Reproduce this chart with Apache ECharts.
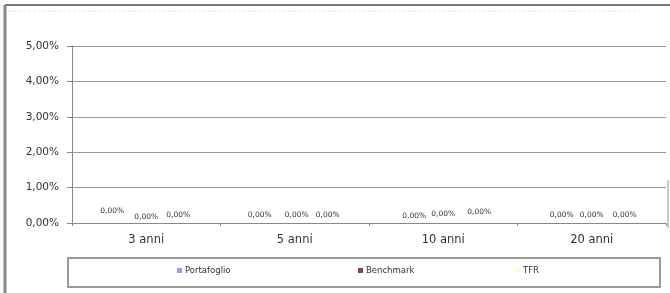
<!DOCTYPE html>
<html style="height: 100%">
<head>
<meta charset="utf-8"/>
<script src="https://cdn.jsdelivr.net/npm/echarts@6/dist/echarts.min.js"></script>
</head>
<body style="height: 100%; margin: 0; background: #fff">
<div id="container" style="width: 670px; height: 293px"></div>
<script>
var categories = ['3 anni', '5 anni', '10 anni', '20 anni'];
var portafoglio = [0, 0, 0, 0];
var benchmark = [0, 0, 0, 0];
var tfr = [0, 0, 0, 0];
var yTicks = [0, 0.01, 0.02, 0.03, 0.04, 0.05];

// small nudges of the value labels, as in the original picture
var nudges = [
	[[-2, -4], [-3, 0], [3, 1], [2, 0]],
	[[0, 2], [2, 0], [0, -1], [0, 0]],
	[[0, 0], [1, 0], [4, -3], [1, 0]]
];

var FONT = 'DejaVu Sans';

function pct(v) {
	return (v * 100).toFixed(2).replace('.', ',') + '%';
}

function makeSeries(name, values, color, idx) {
	var data = [];
	for (var i = 0; i < values.length; i++) {
		data.push({
			value: values[i],
			label: { offset: nudges[idx][i] }
		});
	}
	return {
		name: name,
		type: 'bar',
		barWidth: 32,
		barGap: '0%',
		itemStyle: { color: color },
		label: {
			show: true,
			position: 'top',
			distance: 4,
			fontSize: 7.5,
			fontFamily: FONT,
			color: '#333',
			formatter: function (p) { return pct(p.value); }
		},
		data: data
	};
}

function legendAt(name, left) {
	return {
		data: [name],
		left: left,
		top: 266,
		itemWidth: 5,
		itemHeight: 5,
		itemGap: 0,
		icon: 'rect',
		textStyle: { fontSize: 8.5, fontFamily: FONT, color: '#333', padding: [0, 0, 0, -2] },
		padding: 0
	};
}

var myChart = echarts.init(document.getElementById('container'));
var option = {
	animation: false,
	backgroundColor: '#fff',
	grid: { left: 72, right: 4, top: 46, bottom: 70 },
	legend: [
		legendAt('Portafoglio', 177),
		legendAt('Benchmark', 358),
		legendAt('TFR', 515)
	],
	xAxis: {
		type: 'category',
		data: categories,
		axisLine: { lineStyle: { color: '#888', width: 1 } },
		axisTick: { show: true, length: 3, lineStyle: { color: '#888' } },
		axisLabel: { fontSize: 11.5, fontFamily: FONT, color: '#333', margin: 11 }
	},
	yAxis: {
		type: 'value',
		min: yTicks[0],
		max: yTicks[yTicks.length - 1],
		interval: yTicks[1] - yTicks[0],
		axisLine: { show: true, lineStyle: { color: '#888', width: 1 } },
		axisTick: { show: true, length: 5, lineStyle: { color: '#888' } },
		splitLine: { show: true, lineStyle: { color: '#999', width: 1 } },
		axisLabel: {
			fontSize: 10.5,
			fontFamily: FONT,
			color: '#333',
			margin: 13,
			formatter: pct
		}
	},
	graphic: [
		{ type: 'line', shape: { x1: 5, y1: 5, x2: 670, y2: 5 }, style: { stroke: '#777', lineWidth: 2 } },
		{ type: 'line', shape: { x1: 8, y1: 11, x2: 640, y2: 11 }, style: { stroke: '#e2e2e2', lineWidth: 1, lineDash: [3, 2] } },
		{ type: 'line', shape: { x1: 5, y1: 5, x2: 5, y2: 293 }, style: { stroke: '#888', lineWidth: 3 } },
		{ type: 'line', shape: { x1: 668, y1: 180, x2: 668, y2: 228 }, style: { stroke: '#999', lineWidth: 1 } },
		{ type: 'rect', shape: { x: 68, y: 258, width: 592, height: 29 }, style: { fill: 'none', stroke: '#999', lineWidth: 2 } }
	],
	series: [
		makeSeries('Portafoglio', portafoglio, '#9999FF', 0),
		makeSeries('Benchmark', benchmark, '#993366', 1),
		makeSeries('TFR', tfr, '#FFFFCC', 2)
	]
};
myChart.setOption(option);
</script>
</body>
</html>
